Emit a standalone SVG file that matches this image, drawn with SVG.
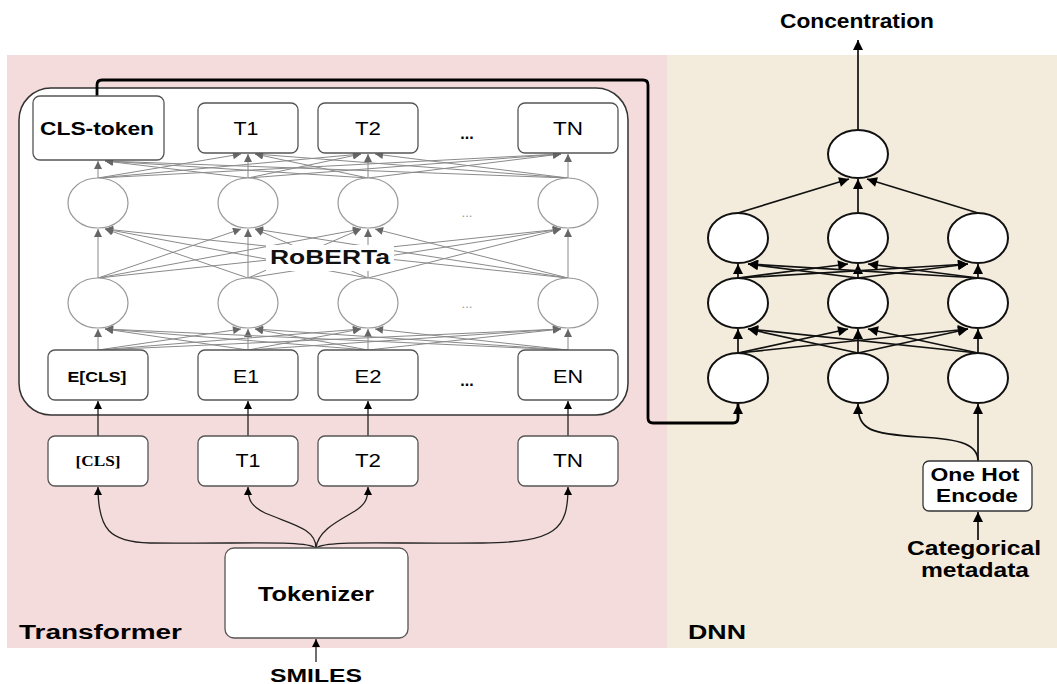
<svg xmlns="http://www.w3.org/2000/svg" width="1057" height="684" viewBox="0 0 1057 684">
  <style>
    .sans { font-family: "Liberation Sans", Arial, sans-serif; }
    .b { font-weight: bold; }
    .box { fill: #fff; stroke: #555; stroke-width: 1.3; }
    .gcirc { fill: #fff; stroke: #999; stroke-width: 1.2; }
    .dcirc { fill: #fff; stroke: #111; stroke-width: 2; }
    .gl { stroke: #8a8a8a; stroke-width: 1; fill: none; marker-end: url(#ga); }
    .dl { stroke: #111; stroke-width: 1.7; fill: none; marker-end: url(#da); }
    .tl { stroke: #222; stroke-width: 1.3; fill: none; marker-end: url(#sa); }
  </style>
  <defs>
    <marker id="ga" viewBox="0 0 10 10" refX="10" refY="5" markerUnits="userSpaceOnUse" markerWidth="9" markerHeight="8" orient="auto">
      <path d="M0,0 L10,5 L0,10 z" fill="#666"/>
    </marker>
    <marker id="da" viewBox="0 0 10 10" refX="10" refY="5" markerUnits="userSpaceOnUse" markerWidth="11" markerHeight="10" orient="auto">
      <path d="M0,0 L10,5 L0,10 z" fill="#000"/>
    </marker>
    <marker id="sa" viewBox="0 0 10 10" refX="10" refY="5" markerUnits="userSpaceOnUse" markerWidth="9" markerHeight="8" orient="auto">
      <path d="M0,0 L10,5 L0,10 z" fill="#000"/>
    </marker>
  </defs>

  <!-- panels -->
  <rect x="7" y="55" width="660" height="593" fill="#f5dcdc"/>
  <rect x="667" y="55" width="390" height="593" fill="#f3ecdc"/>
  <rect x="19" y="88" width="609" height="327" rx="32" fill="#fff" stroke="#333" stroke-width="1.5"/>

  <!-- connectors -->
  <g id="connectors">
    <!-- E boxes to first hidden layer -->
    <line class="gl" x1="98" y1="350" x2="98" y2="329"/>
    <line class="gl" x1="98" y1="350" x2="241" y2="329"/>
    <line class="gl" x1="98" y1="350" x2="361" y2="329"/>
    <line class="gl" x1="98" y1="350" x2="561" y2="329"/>
    <line class="gl" x1="248" y1="350" x2="105" y2="329"/>
    <line class="gl" x1="248" y1="350" x2="248" y2="329"/>
    <line class="gl" x1="248" y1="350" x2="361" y2="329"/>
    <line class="gl" x1="248" y1="350" x2="561" y2="329"/>
    <line class="gl" x1="368" y1="350" x2="105" y2="329"/>
    <line class="gl" x1="368" y1="350" x2="255" y2="329"/>
    <line class="gl" x1="368" y1="350" x2="368" y2="329"/>
    <line class="gl" x1="368" y1="350" x2="561" y2="329"/>
    <line class="gl" x1="568" y1="350" x2="105" y2="329"/>
    <line class="gl" x1="568" y1="350" x2="255" y2="329"/>
    <line class="gl" x1="568" y1="350" x2="375" y2="329"/>
    <line class="gl" x1="568" y1="350" x2="568" y2="329"/>
    <!-- hidden layer to hidden layer -->
    <line class="gl" x1="98" y1="278" x2="98" y2="229"/>
    <line class="gl" x1="98" y1="278" x2="241" y2="229"/>
    <line class="gl" x1="98" y1="278" x2="361" y2="229"/>
    <line class="gl" x1="98" y1="278" x2="561" y2="229"/>
    <line class="gl" x1="248" y1="278" x2="105" y2="229"/>
    <line class="gl" x1="248" y1="278" x2="248" y2="229"/>
    <line class="gl" x1="248" y1="278" x2="361" y2="229"/>
    <line class="gl" x1="248" y1="278" x2="561" y2="229"/>
    <line class="gl" x1="368" y1="278" x2="105" y2="229"/>
    <line class="gl" x1="368" y1="278" x2="255" y2="229"/>
    <line class="gl" x1="368" y1="278" x2="368" y2="229"/>
    <line class="gl" x1="368" y1="278" x2="561" y2="229"/>
    <line class="gl" x1="568" y1="278" x2="105" y2="229"/>
    <line class="gl" x1="568" y1="278" x2="255" y2="229"/>
    <line class="gl" x1="568" y1="278" x2="375" y2="229"/>
    <line class="gl" x1="568" y1="278" x2="568" y2="229"/>
    <!-- second hidden layer to outputs -->
    <line class="gl" x1="98" y1="178" x2="98" y2="161"/>
    <line class="gl" x1="98" y1="178" x2="241" y2="154"/>
    <line class="gl" x1="98" y1="178" x2="361" y2="154"/>
    <line class="gl" x1="98" y1="178" x2="561" y2="154"/>
    <line class="gl" x1="248" y1="178" x2="105" y2="161"/>
    <line class="gl" x1="248" y1="178" x2="248" y2="154"/>
    <line class="gl" x1="248" y1="178" x2="361" y2="154"/>
    <line class="gl" x1="248" y1="178" x2="561" y2="154"/>
    <line class="gl" x1="368" y1="178" x2="105" y2="161"/>
    <line class="gl" x1="368" y1="178" x2="255" y2="154"/>
    <line class="gl" x1="368" y1="178" x2="368" y2="154"/>
    <line class="gl" x1="368" y1="178" x2="561" y2="154"/>
    <line class="gl" x1="568" y1="178" x2="105" y2="161"/>
    <line class="gl" x1="568" y1="178" x2="255" y2="154"/>
    <line class="gl" x1="568" y1="178" x2="375" y2="154"/>
    <line class="gl" x1="568" y1="178" x2="568" y2="154"/>

    <!-- tokens to embeddings -->
    <line class="tl" x1="98" y1="436" x2="98" y2="401"/>
    <line class="tl" x1="248" y1="436" x2="248" y2="401"/>
    <line class="tl" x1="368" y1="436" x2="368" y2="401"/>
    <line class="tl" x1="568" y1="436" x2="568" y2="401"/>

    <!-- tokenizer fan-out -->
    <path class="tl" d="M316,548 C306,540 250,544 150,543 C110,542 98,530 98,487"/>
    <path class="tl" d="M316,548 C316,528 290,524 265,513 C251,506 248,500 248,487"/>
    <path class="tl" d="M316,548 C318,530 340,520 355,511 C366,504 368,498 368,487"/>
    <path class="tl" d="M316,548 C326,540 382,544 482,543 C556,542 568,530 568,487"/>
    <line class="tl" x1="316" y1="662" x2="316" y2="639"/>

    <!-- CLS embedding into the DNN -->
    <path d="M97,96 L97,85 Q97,80 102,80 L643,80 Q648,80 648,85 L648,418 Q648,423 653,423 L733,423 Q738,423 738,418 L738,404" fill="none" stroke="#000" stroke-width="2.8" marker-end="url(#da)"/>

    <!-- DNN layers -->
    <line class="dl" x1="738" y1="353" x2="738" y2="329"/>
    <line class="dl" x1="738" y1="353" x2="848" y2="329"/>
    <line class="dl" x1="738" y1="353" x2="968" y2="329"/>
    <line class="dl" x1="858" y1="353" x2="748" y2="329"/>
    <line class="dl" x1="858" y1="353" x2="858" y2="329"/>
    <line class="dl" x1="858" y1="353" x2="968" y2="329"/>
    <line class="dl" x1="978" y1="353" x2="748" y2="329"/>
    <line class="dl" x1="978" y1="353" x2="868" y2="329"/>
    <line class="dl" x1="978" y1="353" x2="978" y2="329"/>

    <line class="dl" x1="738" y1="278" x2="738" y2="264"/>
    <line class="dl" x1="738" y1="278" x2="848" y2="264"/>
    <line class="dl" x1="738" y1="278" x2="968" y2="264"/>
    <line class="dl" x1="858" y1="278" x2="748" y2="264"/>
    <line class="dl" x1="858" y1="278" x2="858" y2="264"/>
    <line class="dl" x1="858" y1="278" x2="968" y2="264"/>
    <line class="dl" x1="978" y1="278" x2="748" y2="264"/>
    <line class="dl" x1="978" y1="278" x2="868" y2="264"/>
    <line class="dl" x1="978" y1="278" x2="978" y2="264"/>

    <line class="dl" x1="738" y1="213" x2="849" y2="179"/>
    <line class="dl" x1="858" y1="213" x2="858" y2="179"/>
    <line class="dl" x1="978" y1="213" x2="867" y2="179"/>

    <line class="dl" x1="858" y1="130" x2="858" y2="40"/>

    <!-- metadata inputs -->
    <line class="dl" x1="978" y1="461" x2="978" y2="404"/>
    <path class="dl" d="M978,461 C978,445 962,439 920,437 C870,434 858,430 858,404"/>
    <line class="dl" x1="978" y1="540" x2="978" y2="512"/>
  </g>

  <!-- RoBERTa label over the attention lines -->
  <g id="roberta-label">
    <rect x="266" y="245" width="128" height="26" fill="#fff"/>
    <text x="330" y="264" class="sans b" font-size="20" text-anchor="middle" textLength="120" lengthAdjust="spacingAndGlyphs" fill="#111">RoBERTa</text>
  </g>

  <!-- transformer output boxes -->
  <g id="cls-token"><rect class="box" x="33" y="96" width="131" height="64" rx="7"/><text x="97" y="135" class="sans b" font-size="18" text-anchor="middle" textLength="114" lengthAdjust="spacingAndGlyphs">CLS-token</text></g>
  <g id="out-t1"><rect class="box" x="198" y="103" width="100" height="50" rx="7"/><text x="246" y="135" class="sans" font-size="18" text-anchor="middle" textLength="25" lengthAdjust="spacingAndGlyphs">T1</text></g>
  <g id="out-t2"><rect class="box" x="318" y="103" width="100" height="50" rx="7"/><text x="368" y="135" class="sans" font-size="18" text-anchor="middle" textLength="26" lengthAdjust="spacingAndGlyphs">T2</text></g>
  <g id="out-dots"><text x="467" y="139" class="sans b" font-size="16" text-anchor="middle">...</text></g>
  <g id="out-tn"><rect class="box" x="518" y="103" width="100" height="50" rx="7"/><text x="568" y="135" class="sans" font-size="18" text-anchor="middle" textLength="30" lengthAdjust="spacingAndGlyphs">TN</text></g>

  <!-- hidden layer nodes -->
  <g id="h2-1"><ellipse class="gcirc" cx="98" cy="203" rx="30" ry="25"/></g>
  <g id="h2-2"><ellipse class="gcirc" cx="248" cy="203" rx="30" ry="25"/></g>
  <g id="h2-3"><ellipse class="gcirc" cx="368" cy="203" rx="30" ry="25"/></g>
  <g id="h2-dots"><text x="467" y="217" class="sans" font-size="13" fill="#999" text-anchor="middle">...</text></g>
  <g id="h2-4"><ellipse class="gcirc" cx="568" cy="203" rx="30" ry="25"/></g>

  <g id="h1-1"><ellipse class="gcirc" cx="98" cy="303" rx="30" ry="25"/></g>
  <g id="h1-2"><ellipse class="gcirc" cx="248" cy="303" rx="30" ry="25"/></g>
  <g id="h1-3"><ellipse class="gcirc" cx="368" cy="303" rx="30" ry="25"/></g>
  <g id="h1-dots"><text x="467" y="308" class="sans" font-size="13" fill="#999" text-anchor="middle">...</text></g>
  <g id="h1-4"><ellipse class="gcirc" cx="568" cy="303" rx="30" ry="25"/></g>

  <!-- embedding boxes -->
  <g id="e-cls"><rect class="box" x="48" y="350" width="100" height="50" rx="7"/><text x="97" y="382" class="sans b" font-size="15" text-anchor="middle" textLength="59" lengthAdjust="spacingAndGlyphs">E[CLS]</text></g>
  <g id="e1"><rect class="box" x="198" y="350" width="100" height="50" rx="7"/><text x="246" y="383" class="sans" font-size="19" text-anchor="middle" textLength="26" lengthAdjust="spacingAndGlyphs">E1</text></g>
  <g id="e2"><rect class="box" x="318" y="350" width="100" height="50" rx="7"/><text x="368" y="383" class="sans" font-size="19" text-anchor="middle" textLength="27" lengthAdjust="spacingAndGlyphs">E2</text></g>
  <g id="e-dots"><text x="467" y="386" class="sans b" font-size="16" text-anchor="middle">...</text></g>
  <g id="en"><rect class="box" x="518" y="350" width="100" height="50" rx="7"/><text x="568" y="383" class="sans" font-size="19" text-anchor="middle" textLength="30" lengthAdjust="spacingAndGlyphs">EN</text></g>

  <!-- input tokens -->
  <g id="tok-cls"><rect class="box" x="48" y="436" width="100" height="50" rx="7"/><text x="98" y="466" font-family="'Liberation Serif', 'Times New Roman', serif" font-weight="bold" font-size="14" text-anchor="middle" textLength="45" lengthAdjust="spacingAndGlyphs">[CLS]</text></g>
  <g id="tok-t1"><rect class="box" x="198" y="436" width="100" height="50" rx="7"/><text x="248" y="467" class="sans" font-size="18" text-anchor="middle" textLength="25" lengthAdjust="spacingAndGlyphs">T1</text></g>
  <g id="tok-t2"><rect class="box" x="318" y="436" width="100" height="50" rx="7"/><text x="368" y="467" class="sans" font-size="18" text-anchor="middle" textLength="26" lengthAdjust="spacingAndGlyphs">T2</text></g>
  <g id="tok-tn"><rect class="box" x="518" y="436" width="100" height="50" rx="7"/><text x="568" y="467" class="sans" font-size="18" text-anchor="middle" textLength="30" lengthAdjust="spacingAndGlyphs">TN</text></g>

  <g id="tokenizer"><rect class="box" x="225" y="548" width="183" height="90" rx="9"/><text x="316" y="601" class="sans b" font-size="20" text-anchor="middle" textLength="116" lengthAdjust="spacingAndGlyphs">Tokenizer</text></g>
  <g id="smiles"><text x="316" y="682" class="sans b" font-size="19" text-anchor="middle" textLength="92" lengthAdjust="spacingAndGlyphs">SMILES</text></g>
  <g id="transformer-label"><text x="19" y="639" class="sans b" font-size="20" textLength="163" lengthAdjust="spacingAndGlyphs">Transformer</text></g>

  <!-- DNN nodes -->
  <g id="d-out"><ellipse class="dcirc" cx="858" cy="154" rx="30" ry="24"/></g>
  <g id="d3-1"><ellipse class="dcirc" cx="738" cy="238" rx="30" ry="25"/></g>
  <g id="d3-2"><ellipse class="dcirc" cx="858" cy="238" rx="30" ry="25"/></g>
  <g id="d3-3"><ellipse class="dcirc" cx="978" cy="238" rx="30" ry="25"/></g>
  <g id="d2-1"><ellipse class="dcirc" cx="738" cy="303" rx="30" ry="25"/></g>
  <g id="d2-2"><ellipse class="dcirc" cx="858" cy="303" rx="30" ry="25"/></g>
  <g id="d2-3"><ellipse class="dcirc" cx="978" cy="303" rx="30" ry="25"/></g>
  <g id="d1-1"><ellipse class="dcirc" cx="738" cy="378" rx="30" ry="25"/></g>
  <g id="d1-2"><ellipse class="dcirc" cx="858" cy="378" rx="30" ry="25"/></g>
  <g id="d1-3"><ellipse class="dcirc" cx="978" cy="378" rx="30" ry="25"/></g>

  <g id="concentration"><text x="857" y="28" class="sans b" font-size="20" text-anchor="middle" textLength="154" lengthAdjust="spacingAndGlyphs">Concentration</text></g>
  <g id="one-hot"><rect x="923" y="461" width="109" height="50" rx="6" fill="#fff" stroke="#333" stroke-width="1.3"/><text x="975" y="481" class="sans b" font-size="18" text-anchor="middle" textLength="89" lengthAdjust="spacingAndGlyphs">One Hot</text><text x="977" y="502" class="sans b" font-size="18" text-anchor="middle" textLength="82" lengthAdjust="spacingAndGlyphs">Encode</text></g>
  <g id="metadata"><text x="974" y="555" class="sans b" font-size="20" text-anchor="middle" textLength="134" lengthAdjust="spacingAndGlyphs">Categorical</text><text x="975" y="577" class="sans b" font-size="20" text-anchor="middle" textLength="108" lengthAdjust="spacingAndGlyphs">metadata</text></g>
  <g id="dnn-label"><text x="688" y="639" class="sans b" font-size="20" textLength="58" lengthAdjust="spacingAndGlyphs">DNN</text></g>
</svg>
